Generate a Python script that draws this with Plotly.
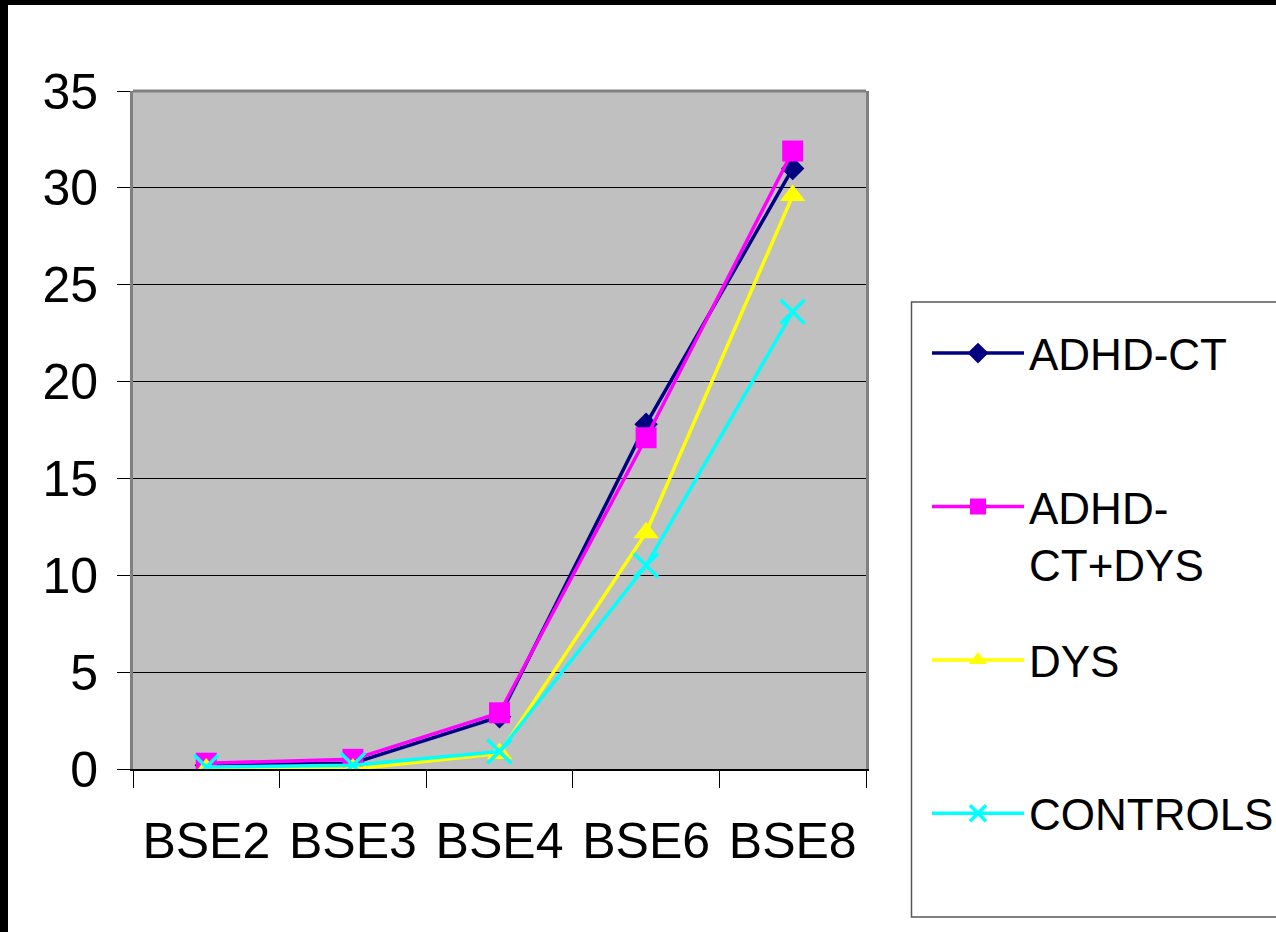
import plotly.graph_objects as go

categories = ["BSE2", "BSE3", "BSE4", "BSE6", "BSE8"]
adhd_ct = [0.2, 0.3, 2.7, 17.8, 31.0]
adhd_ct_dys = [0.3, 0.5, 2.9, 17.1, 31.9]
dys = [0.0, 0.0, 0.8, 12.2, 29.6]
controls = [0.1, 0.2, 0.9, 10.5, 23.6]
series_names = ["ADHD-CT", "ADHD-<br>CT+DYS", "DYS", "CONTROLS"]
y_ticks = [0, 5, 10, 15, 20, 25, 30, 35]

W, H = 1276, 932
L, R, T, B = 133, 410, 91, 163
PW, PH = W - L - R, H - T - B

def px(x):
    return (x - L) / PW

def py(y):
    return (H - B - y) / PH

FONT = "Liberation Sans, Arial, sans-serif"

fig = go.Figure()
specs = [
    (adhd_ct, series_names[0] + "<br> ", "#000080", "diamond", 18, 0),
    (adhd_ct_dys, series_names[1], "#FF00FF", "square", 21, 0),
    (dys, series_names[2] + "<br> ", "#FFFF00", "triangle-up", 22, 0),
    (controls, series_names[3] + "<br> ", "#00FFFF", "x-thin-open", 24, 3.5),
]
for i, (vals, name, col, sym, size, lw) in enumerate(specs):
    fig.add_trace(go.Scatter(
        x=categories, y=vals, name=name, mode="lines+markers",
        line=dict(color=col, width=3.5),
        marker=dict(symbol=sym, size=size, color=col,
                    line=dict(color=col, width=lw)),
        legendgroup="g%d" % i,
    ))

shapes = [
    # black frame (top and left)
    dict(type="rect", xref="paper", yref="paper", x0=px(-20), x1=px(8), y0=py(960), y1=py(-20),
         fillcolor="black", line=dict(width=0), layer="above"),
    dict(type="rect", xref="paper", yref="paper", x0=px(-20), x1=px(1300), y0=py(5), y1=py(-20),
         fillcolor="black", line=dict(width=0), layer="above"),
    # top border of plot area
    dict(type="line", xref="paper", yref="paper", x0=0, x1=1, y0=1, y1=1,
         line=dict(color="#808080", width=3), layer="above"),
    # legend box
    dict(type="rect", xref="paper", yref="paper", x0=px(911.5), x1=px(1300), y0=py(917), y1=py(302),
         line=dict(color="#555555", width=1.5), fillcolor="rgba(0,0,0,0)", layer="above"),
]

fig.update_layout(
    width=W, height=H,
    margin=dict(l=L, r=R, t=T, b=B, autoexpand=False),
    paper_bgcolor="white",
    plot_bgcolor="#C0C0C0",
    font=dict(family=FONT, color="black", size=50),
    showlegend=True,
    legend=dict(
        x=px(927), y=py(318), xanchor="left", yanchor="top",
        font=dict(family=FONT, size=44, color="black"),
        bgcolor="rgba(0,0,0,0)", borderwidth=0,
        traceorder="grouped", tracegroupgap=36,
        valign="top", itemwidth=92,
    ),
    shapes=shapes,
    xaxis=dict(
        type="category", range=[-0.5, 4.5],
        showline=True, linecolor="black", linewidth=2,
        ticks="outside", ticklen=17, tickcolor="black", tickwidth=1,
        tickson="boundaries", showgrid=False, tickangle=0, automargin=False,
        tickfont=dict(family=FONT, size=50, color="black"),
        ticklabelstandoff=27,
    ),
    yaxis=dict(
        range=[0, 35], tickvals=y_ticks, automargin=False,
        showline=True, linecolor="#808080", linewidth=3, mirror=True,
        ticks="outside", ticklen=13, tickcolor="black", tickwidth=1,
        showgrid=True, gridcolor="black", gridwidth=1, zeroline=False,
        tickfont=dict(family=FONT, size=50, color="black"),
        ticklabelstandoff=9,
    ),
)

fig.write_html("out.html")
